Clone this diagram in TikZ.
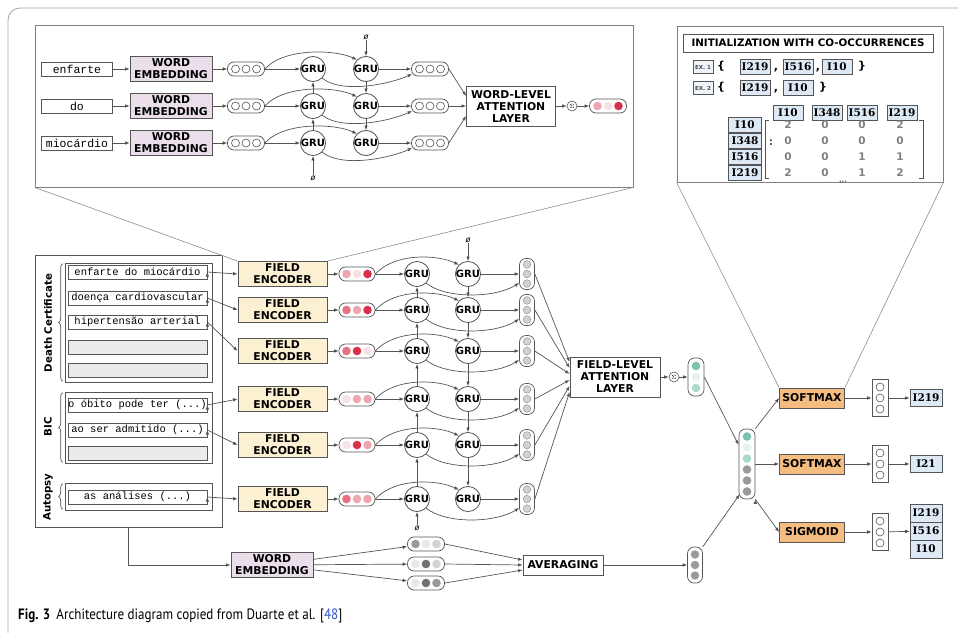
\documentclass[tikz,border=0pt]{standalone}
\usepackage{fontspec}
\usepackage{amssymb}
\usepackage{graphicx}
\usetikzlibrary{positioning,calc,arrows.meta,decorations.pathreplacing}

\newfontfamily\vsans{DejaVu Sans}
\newfontfamily\vmono{Liberation Mono}
\newfontfamily\vserif{DejaVu Serif}
\newfontfamily\capsans{PT Sans}

\definecolor{linec}{HTML}{555555}
\definecolor{embfill}{HTML}{E9DEEA}
\definecolor{encfill}{HTML}{FCF0D3}
\definecolor{smfill}{HTML}{F4BC80}
\definecolor{idfill}{HTML}{DDE9F5}
\definecolor{gfill}{HTML}{EBEBEB}
\definecolor{rA}{HTML}{D9304A}
\definecolor{rB}{HTML}{E6707F}
\definecolor{rC}{HTML}{EBA6AF}
\definecolor{rD}{HTML}{F8E1E4}
\definecolor{tA}{HTML}{7CC2B1}
\definecolor{tB}{HTML}{ABD9CD}
\definecolor{tC}{HTML}{E7F2EF}
\definecolor{kA}{HTML}{9A9A9A}
\definecolor{kB}{HTML}{727272}
\definecolor{kC}{HTML}{D2D2D2}
\definecolor{kD}{HTML}{E8E8E8}
\definecolor{refblue}{HTML}{3355CC}

\tikzset{
  >={Latex[length=4.5pt,width=3.5pt]},
  blk/.style={draw=linec, line width=0.8pt, inner sep=1pt, align=center,
    font=\vsans\bfseries\fontsize{10.8}{12}\selectfont},
  embbox/.style={blk, fill=embfill, minimum width=82, minimum height=25},
  encbox/.style={blk, fill=encfill, minimum width=89, minimum height=25},
  attbox/.style={blk, fill=white, minimum width=90, minimum height=40},
  actbox/.style={blk, fill=smfill, minimum width=65, minimum height=20},
  avgbox/.style={blk, fill=white, minimum width=80, minimum height=20},
  gru/.style={circle, draw=linec, line width=0.8pt, fill=white, minimum size=23,
    inner sep=0, font=\vsans\bfseries\fontsize{10}{10}\selectfont},
  hcap/.style={draw=linec, line width=0.7pt, fill=white, rounded corners=6.5pt,
    minimum width=37, minimum height=14, inner sep=0},
  vcap/.style={hcap, minimum width=15, minimum height=31},
  cbox/.style={draw=linec, line width=0.7pt, fill=white, minimum width=16,
    minimum height=37, inner sep=0},
  word/.style={draw=linec, line width=0.7pt, fill=white, inner sep=0,
    minimum width=139, minimum height=14, font=\vmono\fontsize{10.5}{11}\selectfont},
  grp/.style={draw=linec, line width=0.7pt, inner sep=0},
  idbox/.style={draw=linec, line width=0.6pt, fill=idfill, inner sep=0, minimum width=30,
    minimum height=15, font=\vserif\bfseries\fontsize{10.5}{10.5}\selectfont},
  exbox/.style={draw=linec, line width=0.5pt, fill=idfill!50, inner sep=0,
    minimum width=20, minimum height=13, text=black!70,
    font=\vsans\bfseries\fontsize{5.5}{6}\selectfont},
  brc/.style={inner sep=0, font=\vsans\bfseries\fontsize{11}{11}\selectfont},
  val/.style={inner sep=0, text=black!50, font=\vsans\bfseries\fontsize{10.5}{10.5}\selectfont},
  inset/.style={draw=black!50, line width=0.8pt, fill=white, inner sep=0},
  side/.style={rotate=90, inner sep=0, font=\vsans\bfseries\fontsize{10.2}{10.2}\selectfont},
  nul/.style={inner sep=0.5pt, font=\vsans\itshape\fontsize{8}{8}\selectfont},
  sig/.style={circle, draw=linec, line width=0.6pt, minimum size=10, inner sep=0,
    font=\fontsize{6}{6}\selectfont},
  dot/.style={draw=linec, line width=0.6pt, fill=white},
  conn/.style={->, draw=linec, line width=0.7pt},
  zoomline/.style={draw=black!45, line width=0.6pt},
}

\begin{document}
\begin{tikzpicture}[x=1pt,y=-1pt]
\useasboundingbox (0,0) rectangle (958,632);
\clip (0,0) rectangle (958,632);
\draw[black!35, line width=0.8pt, rounded corners=12pt] (8,8) rectangle (1000,680);

% word-level encoder (zoomed)
\node[inset, minimum width=598, minimum height=162] (wl) at (334,106) {};
\foreach \w/\y [count=\i] in {enfarte/69,do/106,miocárdio/143} {
  \node[word, minimum width=71, font=\vmono\fontsize{11.5}{12}\selectfont] (w\i) at (77,\y) {\w};
  \node[embbox] (we\i) at (171,\y) {WORD\\EMBEDDING};
  \node[hcap] (c\i) at (246,\y) {};
  \node[gru] (ua\i) at (313,\y) {GRU};
  \node[gru] (ub\i) at (366,\y) {GRU};
  \node[hcap] (p\i) at (430,\y) {};
  \foreach \k in {-1,0,1} {
    \draw[dot] (c\i.center) ++(\k*10.5,0) circle (4);
    \draw[dot] (p\i.center) ++(\k*10.5,0) circle (4);
  }
  \path[conn] (w\i) edge (we\i) (we\i) edge (c\i) (c\i) edge (ua\i) (ub\i) edge (p\i);
  \draw[conn] (c\i.east) .. controls +(20,-22) and +(-20,-10) .. (ub\i.north west);
  \draw[conn] (ua\i.south east) .. controls +(20,16) and +(-22,10) .. ($(p\i.west)+(1,5)$);
}
\node[nul] (ta) at (313,178) {ø};
\node[nul] (tb) at (366,37) {ø};
\path[conn] (ta) edge (ua3) (ua3) edge (ua2) (ua2) edge (ua1)
            (tb) edge (ub1) (ub1) edge (ub2) (ub2) edge (ub3);
\node[attbox, minimum width=89] (wla) at (511,106) {WORD-LEVEL\\ATTENTION\\LAYER};
\foreach \i/\d in {1/-10,2/0,3/10}
  \draw[conn] (p\i.east) -- ($(wla.west)+(0,\d)$);
\node[sig] (ws) at (572,106) {$\Sigma$};
\node[hcap] (wo) at (608,106) {};
\foreach \c [count=\k] in {rC,rD,rA}
  \fill[\c] (wo.center) ++(\k*10.5-21,0) circle (4.3);
\path[conn] (wla) edge (ws) (ws) edge (wo);

% co-occurrence initialisation (zoomed)
\node[inset, minimum width=266, minimum height=156] (co) at (810,104) {};
\node[draw=linec, line width=0.7pt, fill=white, minimum width=250, minimum height=18,
  inner sep=0, font=\vsans\bfseries\fontsize{10.3}{10.3}\selectfont] (hd) at (808,43)
  {INITIALIZATION WITH CO-OCCURRENCES};
\node[exbox] (x1) at (703,67) {EX. 1};
\node[brc] (x1a) at (721,66) {\{};
\node[idbox] (x1b) at (755,67) {I219};
\node[brc] (x1c) at (776,70) {,};
\node[idbox] (x1d) at (798,67) {I516};
\node[brc] (x1e) at (818,70) {,};
\node[idbox] (x1f) at (837,67) {I10};
\node[brc] (x1g) at (862,66) {\}};
\node[exbox] (x2) at (703,88) {EX. 2};
\node[brc] (x2a) at (721,87) {\{};
\node[idbox] (x2b) at (755,88) {I219};
\node[brc] (x2c) at (776,91) {,};
\node[idbox] (x2d) at (798,88) {I10};
\node[brc] (x2e) at (823,87) {\}};
\foreach \n/\x [count=\i] in {I10/788,I348/827,I516/862,I219/902}
  \node[idbox] (ch\i) at (\x,113) {\n};
\foreach \n/\y [count=\i] in {I10/125,I348/141,I516/157,I219/173}
  \node[idbox, minimum width=33, minimum height=15] (rh\i) at (745,\y) {\n};
\foreach \y/\a/\b/\c/\d [count=\i] in {125/2/0/0/2,141/0/0/0/0,157/0/0/1/1,173/2/0/1/2} {
  \node[val] (m\i a) at (788,\y) {\a};
  \node[val] (m\i b) at (825,\y) {\b};
  \node[val] (m\i c) at (862,\y) {\c};
  \node[val] (m\i d) at (900,\y) {\d};
}
\draw[linec, line width=0.8pt] (769,120) -- (765,120) -- (765,178) -- (769,178);
\draw[linec, line width=0.8pt] (919,120) -- (923,120) -- (923,178) -- (919,178);
\node[val, text=linec] (mc) at (771,143) {:};
\node[val, text=linec, font=\vsans\bfseries\fontsize{7}{7}\selectfont] (md) at (843,182) {...};

% input fields
\node[grp, minimum width=187, minimum height=272] (lp) at (128.5,391) {};
\node[grp, minimum width=147, minimum height=119] (dc) at (138.5,322.5) {};
\node[grp, minimum width=147, minimum height=71] (bic) at (138.5,427.5) {};
\node[grp, minimum width=147, minimum height=27] (aut) at (138.5,496.5) {};
\foreach \g in {dc,bic,aut}
  \draw[linec, line width=0.7pt, decorate, decoration={brace, amplitude=4pt}]
    ($(\g.south west)+(-2,-1)$) -- ($(\g.north west)+(-2,1)$);
\node[side] (ldc) at (48,323) {Death Certificate};
\node[side] (lbic) at (48,427) {BIC};
\node[side] (laut) at (48,497) {Autopsy};
\node[word] (f1) at (137.5,272) {enfarte do miocárdio};
\node[word] (f2) at (137.5,298) {doença cardiovascular};
\node[word] (f3) at (137.5,322) {hipertensão arterial};
\node[word, fill=gfill] (f7) at (137.5,347) {};
\node[word, fill=gfill] (f8) at (137.5,370) {};
\node[word] (f4) at (137.5,405) {o óbito pode ter (...)};
\node[word] (f5) at (137.5,430) {ao ser admitido (...)};
\node[word, fill=gfill] (f9) at (137.5,453) {};
\node[word] (f6) at (137.5,497) {as análises (...)};

% field-level encoder
\foreach \y [count=\i] in {274,310,351,399,445,499} {
  \node[encbox] (e\i) at (282.5,\y) {FIELD\\ENCODER};
  \node[hcap, minimum width=36] (r\i) at (357,\y) {};
  \node[gru] (ga\i) at (417,\y) {GRU};
  \node[gru] (gb\i) at (468,\y) {GRU};
  \node[vcap] (o\i) at (527,\y) {};
  \foreach \k in {-1,0,1}
    \filldraw[fill=kC, draw=linec!70, line width=0.4pt] (o\i.center) ++(0,\k*9.5) circle (3.8);
  \path[conn] (f\i.east) edge (e\i.west) (e\i) edge (r\i) (r\i) edge (ga\i) (gb\i) edge (o\i);
  \draw[conn] (r\i.east) .. controls +(20,-22) and +(-20,-10) .. (gb\i.north west);
  \draw[conn] (ga\i.south east) .. controls +(20,16) and +(-24,15) .. ($(o\i.west)+(0,9)$);
}
\foreach \i/\ca/\cb/\cc in {1/rC/rD/rA,2/rB/rC/rA,3/rB/rA/rD,4/rD/rC/rC,5/rD/rA/rC,6/rB/rC/rC}
  \foreach \c [count=\k] in {\ca,\cb,\cc}
    \fill[\c] (r\i.center) ++(\k*10.5-21,0) circle (4.3);
\node[nul] (za) at (417,528) {ø};
\node[nul] (zb) at (468,240) {ø};
\path[conn] (za) edge (ga6) (ga6) edge (ga5) (ga5) edge (ga4) (ga4) edge (ga3)
            (ga3) edge (ga2) (ga2) edge (ga1)
            (zb) edge (gb1) (gb1) edge (gb2) (gb2) edge (gb3) (gb3) edge (gb4)
            (gb4) edge (gb5) (gb5) edge (gb6);
\draw[zoomline] (wl.south west) -- (e1.north west);
\draw[zoomline] (wl.south east) -- (e1.north east);

\node[attbox] (fla) at (615,377) {FIELD-LEVEL\\ATTENTION\\LAYER};
\foreach \i/\d in {1/-15,2/-9,3/-3,4/3,5/9,6/15}
  \draw[conn] (o\i.east) -- ($(fla.west)+(0,\d)$);
\node[sig] (fs) at (674,377) {$\Sigma$};
\node[vcap, minimum width=16, minimum height=38] (tc) at (696,377) {};
\foreach \c [count=\k] in {tA,tC,tB}
  \fill[\c] (tc.center) ++(0,\k*11-22) circle (4.3);
\path[conn] (fla) edge (fs) (fs) edge (tc);

% averaged word embeddings
\node[embbox] (be) at (272,565) {WORD\\EMBEDDING};
\draw[conn] (lp.south) |- (be.west);
\node[hcap] (b1) at (426,544) {};
\node[hcap] (b2) at (426,564) {};
\node[hcap] (b3) at (426,583) {};
\foreach \i/\ca/\cb/\cc in {1/kA/kD/kC,2/kD/kB/kC,3/kD/kB/kA}
  \foreach \c [count=\k] in {\ca,\cb,\cc}
    \fill[\c] (b\i.center) ++(\k*10.5-21,0) circle (4.3);
\node[avgbox] (avg) at (563,565) {AVERAGING};
\path[conn] (be) edge (b1) (be) edge (b2) (be) edge (b3);
\foreach \i/\d in {1/-5,2/0,3/5}
  \draw[conn] (b\i.east) -- ($(avg.west)+(0,\d)$);
\node[vcap, minimum height=36] (ac) at (695,565) {};
\foreach \k in {-1,0,1}
  \fill[kA] (ac.center) ++(0,\k*10.5) circle (4.2);
\path[conn] (avg) edge (ac);

% classifiers
\node[vcap, minimum width=16, minimum height=70] (big) at (747,464) {};
\foreach \c [count=\k] in {tA,tC,tB,kA,kA,kA}
  \fill[\c] (big.center) ++(0,\k*11-38.5) circle (4.3);
\draw[conn] (tc.east) -- ($(big.west)+(0,-19)$);
\draw[conn] (ac.north east) -- ($(big.south west)+(1,-5)$);
\node[actbox] (s1) at (812,398) {SOFTMAX};
\node[actbox] (s2) at (812,464) {SOFTMAX};
\node[actbox] (s3) at (812,532) {SIGMOID};
\path[conn] (big.north east) edge (s1.west) (big.east) edge (s2.west)
            (big.south east) edge (s3.west);
\foreach \i/\y in {1/398,2/464,3/532} {
  \node[cbox] (k\i) at (880,\y) {};
  \foreach \k in {-1,0,1}
    \draw[dot] (k\i.center) ++(0,\k*11) circle (4);
  \path[conn] (s\i) edge (k\i);
}
\node[idbox, minimum width=32, minimum height=17] (y1) at (926,398) {I219};
\node[idbox, minimum width=32, minimum height=17] (y2) at (926,464) {I21};
\node[idbox, minimum width=32, minimum height=18] (y3) at (926,513) {I219};
\node[idbox, minimum width=32, minimum height=18] (y4) at (926,531) {I516};
\node[idbox, minimum width=32, minimum height=18] (y5) at (926,549) {I10};
\path[conn] (k1) edge (y1) (k2) edge (y2) (k3) edge (y4);
\draw[zoomline] (co.south west) -- (s1.north west);
\draw[zoomline] (co.south east) -- (s1.north east);

\node[anchor=base west, inner sep=0, font=\capsans\fontsize{15}{15}\selectfont] (cap) at (18,619)
  {\scalebox{0.87}[1]{\textbf{Fig. 3}\hspace{7pt}Architecture diagram copied from Duarte et al. [\textcolor{refblue}{48}]}};
\end{tikzpicture}
\end{document}
